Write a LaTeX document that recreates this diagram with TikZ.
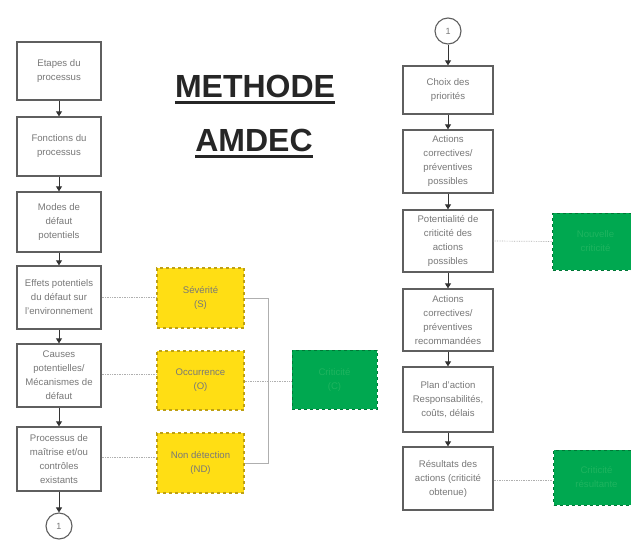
\documentclass[tikz,border=0pt]{standalone}
\usepackage{fontspec}
\setmainfont{Liberation Sans}
\usetikzlibrary{arrows.meta}
\definecolor{boxline}{RGB}{95,95,95}
\definecolor{boxtext}{RGB}{120,120,120}
\definecolor{yel}{RGB}{255,222,20}
\definecolor{yelline}{RGB}{190,160,20}
\definecolor{grn}{RGB}{0,168,80}
\definecolor{grnline}{RGB}{0,120,55}
\definecolor{grntext}{RGB}{30,180,95}
\definecolor{wire}{RGB}{175,175,175}
\tikzset{
  stepbox/.style={draw=boxline, line width=1.3pt, fill=white, align=center,
    text=boxtext, font=\fontsize{9.6}{14}\selectfont, inner sep=1pt},
  ratebox/.style={draw=yelline, dashed, line width=1.2pt, fill=yel, align=center,
    text=boxtext, font=\fontsize{9.6}{14}\selectfont, inner sep=1pt},
  critbox/.style={draw=grnline, dashed, line width=1pt, fill=grn, align=center,
    text=grntext, font=\fontsize{9.6}{14}\selectfont, inner sep=1pt},
  pagelink/.style={draw=boxline, line width=1.1pt, circle, minimum size=26pt,
    inner sep=0pt, font=\fontsize{9}{10}\selectfont, text=boxtext},
  flow/.style={draw=black!80, line width=0.9pt, -{Triangle[length=5pt,width=6pt]}},
  feed/.style={draw=wire, line width=0.7pt, densely dotted},
  busline/.style={draw=wire, line width=0.8pt},
  title/.style={font=\fontsize{32}{36}\selectfont\bfseries, text=black!85, inner sep=0pt}
}
\begin{document}
\begin{tikzpicture}[x=1pt,y=-1pt]
\clip (0,0) rectangle (631,541);
\fill[white] (0,0) rectangle (631,541);

% title, underlined
\node[title] (t1) at (255,86) {METHODE};
\draw[line width=3pt, black!85] ([yshift=-5pt]t1.south west) -- ([yshift=-5pt]t1.south east);
\node[title] (t2) at (254,140) {AMDEC};
\draw[line width=3pt, black!85] ([yshift=-5pt]t2.south west) -- ([yshift=-5pt]t2.south east);

% left column: analysis steps
\node[stepbox, minimum width=84pt, minimum height=58pt] (l1) at (59,71) {Etapes du\\processus};
\node[stepbox, minimum width=84pt, minimum height=59pt] (l2) at (59,146.5) {Fonctions du\\processus};
\node[stepbox, minimum width=84pt, minimum height=60pt] (l3) at (59,222) {Modes de\\défaut\\potentiels};
\node[stepbox, minimum width=84pt, minimum height=63pt] (l4) at (59,297.5) {Effets potentiels\\du défaut sur\\l'environnement};
\node[stepbox, minimum width=84pt, minimum height=63pt] (l5) at (59,375.5) {Causes\\potentielles/\\Mécanismes de\\défaut};
\node[stepbox, minimum width=84pt, minimum height=64pt] (l6) at (59,459) {Processus de\\maîtrise et/ou\\contrôles\\existants};
\node[pagelink] (c1) at (59,526) {1};

\draw[flow] (l1) -- (l2);
\draw[flow] (l2) -- (l3);
\draw[flow] (l3) -- (l4);
\draw[flow] (l4) -- (l5);
\draw[flow] (l5) -- (l6);
\draw[flow] (l6) -- (c1);

% rating boxes
\node[ratebox, minimum width=87pt, minimum height=60pt] (y1) at (200.5,298) {Sévérité\\(S)};
\node[ratebox, minimum width=87pt, minimum height=59pt] (y2) at (200.5,380.5) {Occurrence\\(O)};
\node[ratebox, minimum width=87pt, minimum height=60pt] (y3) at (200.5,463) {Non détection\\(ND)};

\node[critbox, minimum width=85pt, minimum height=59pt] (g1) at (334.5,379.5) {Criticité\\(C)};

\draw[feed] (l4.east) -- (l4.east -| y1.west);
\draw[feed] ([yshift=1pt]l5.east) -- ([yshift=1pt]l5.east -| y2.west);
\draw[feed] ([yshift=1.5pt]l6.east) -- ([yshift=1.5pt]l6.east -| y3.west);

\coordinate (jn) at (268,298);
\draw[busline] (y1.east) -- (jn) -- (jn |- y3.east) -- (y3.east);
\draw[feed] ([yshift=-1pt]y2.east) -- ([yshift=-1pt]y2.east -| g1.west);

% right column: action steps
\node[pagelink] (c2) at (448,31) {1};
\node[stepbox, minimum width=90pt, minimum height=48pt] (r1) at (448,90) {Choix des\\priorités};
\node[stepbox, minimum width=90pt, minimum height=63pt] (r2) at (448,161.5) {Actions\\correctives/\\préventives\\possibles};
\node[stepbox, minimum width=90pt, minimum height=62pt] (r3) at (448,241) {Potentialité de\\criticité des\\actions\\possibles};
\node[stepbox, minimum width=90pt, minimum height=62pt] (r4) at (448,320) {Actions\\correctives/\\préventives\\recommandées};
\node[stepbox, minimum width=90pt, minimum height=65pt] (r5) at (448,399.5) {Plan d'action\\Responsabilités,\\coûts, délais};
\node[stepbox, minimum width=90pt, minimum height=63pt] (r6) at (448,478.5) {Résultats des\\actions (criticité\\obtenue)};

\draw[flow] (c2) -- (r1);
\draw[flow] (r1) -- (r2);
\draw[flow] (r2) -- (r3);
\draw[flow] (r3) -- (r4);
\draw[flow] (r4) -- (r5);
\draw[flow] (r5) -- (r6);

\node[critbox, anchor=west, minimum width=86pt, minimum height=57pt] (g2) at (552,241.5) {Nouvelle\\criticité};
\node[critbox, anchor=west, minimum width=86pt, minimum height=55pt] (g3) at (553,477.5) {Criticité\\résultante};

\draw[feed] (r3.east) -- (g2.west);
\draw[feed] ([yshift=-1.5pt]r6.east) -- ([yshift=-1.5pt]r6.east -| g3.west);
\end{tikzpicture}
\end{document}
